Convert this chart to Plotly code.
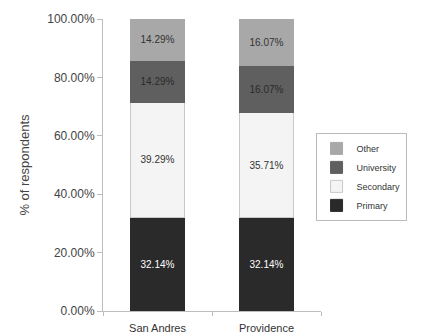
import plotly.graph_objects as go

# Survey results: education level by island
islands = ["San Andres", "Providence"]
levels = ["Primary", "Secondary", "University", "Other"]
primary = [32.14, 32.14]
secondary = [39.29, 35.71]
university = [14.29, 16.07]
other = [14.29, 16.07]
y_ticks = [0, 20, 40, 60, 80, 100]

series = [primary, secondary, university, other]
fill_colors = ["#2a2a2a", "#f4f4f4", "#5f5f5f", "#a8a8a8"]
edge_colors = ["#2a2a2a", "#c8c8c8", "#5f5f5f", "#a8a8a8"]
text_colors = ["#ffffff", "#333333", "#2a2a2a", "#333333"]

fig = go.Figure()
for name, vals, fc, ec, tc in zip(levels, series, fill_colors, edge_colors, text_colors):
    fig.add_trace(go.Bar(
        x=islands, y=vals, name=name,
        marker=dict(color=fc, line=dict(color=ec, width=1)),
        texttemplate="%{y:.2f}%", textposition="inside",
        insidetextanchor="middle",
        textfont=dict(color=tc, size=10, family="Liberation Sans, Arial, sans-serif"),
        constraintext="none",
    ))

fig.update_layout(
    barmode="stack",
    bargap=0.5,
    width=421, height=336,
    margin=dict(l=103, r=100, t=19, b=25),
    plot_bgcolor="white", paper_bgcolor="white",
    font=dict(family="Liberation Sans, Arial, sans-serif", size=11, color="#444444"),
    showlegend=True,
    legend=dict(
        x=0.975, y=0.61, xanchor="left", yanchor="top",
        traceorder="reversed",
        bordercolor="#bbbbbb", borderwidth=1,
        font=dict(size=9, color="#333333"),
        itemwidth=30, tracegroupgap=0,
    ),
)

fig.update_yaxes(
    range=[0, 100], tickvals=y_ticks,
    ticktext=[f"{v:.2f}%" for v in y_ticks],
    tickfont=dict(size=12, color="#444444"),
    showgrid=False, zeroline=False,
    showline=True, linecolor="#bdbdbd", linewidth=1,
    ticks="outside", ticklen=5, tickcolor="#bdbdbd",
    title=dict(text="% of respondents", font=dict(size=13, color="#444444"), standoff=14),
)
fig.update_xaxes(
    showgrid=False, showline=True, linecolor="#bdbdbd", linewidth=1,
    ticks="outside", tickson="boundaries", ticklen=4, tickcolor="#bdbdbd",
    tickfont=dict(size=11, color="#333333"), ticklabelstandoff=7,
    automargin=False,
)

fig.write_html("out.html")
